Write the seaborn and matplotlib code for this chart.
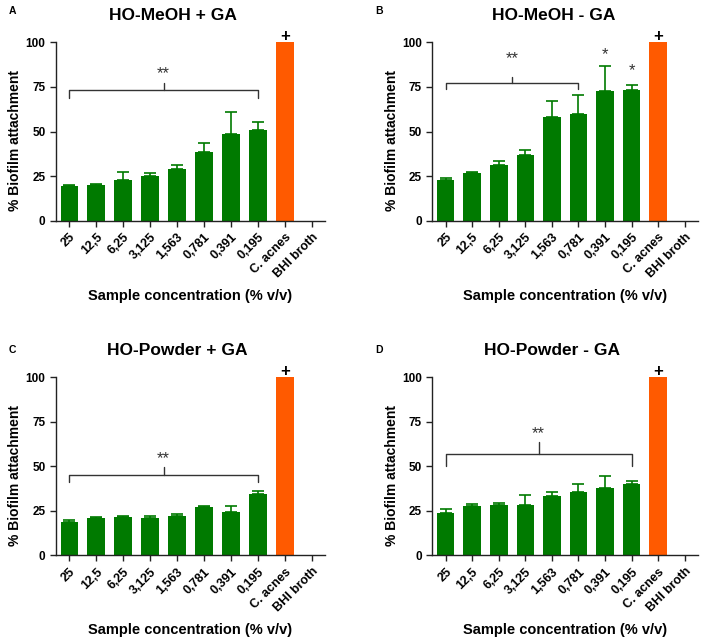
import numpy as np
import pandas as pd
import matplotlib
matplotlib.use('Agg')
import matplotlib.pyplot as plt
import seaborn as sns

sns.set_style('ticks')
plt.rcParams['font.family'] = ['Liberation Sans', 'DejaVu Sans']
plt.rcParams['text.color'] = 'black'
plt.rcParams['axes.labelcolor'] = 'black'
plt.rcParams['xtick.color'] = 'black'
plt.rcParams['ytick.color'] = 'black'

categories = ['25', '12,5', '6,25', '3,125', '1,563', '0,781', '0,391', '0,195',
              'C. acnes', 'BHI broth']

titles = ['HO-MeOH + GA', 'HO-MeOH - GA', 'HO-Powder + GA', 'HO-Powder - GA']
letters = ['A', 'B', 'C', 'D']

means_a = [19.5, 20.0, 23.0, 25.0, 29.0, 38.5, 48.5, 51.0, 100, 0]
upper_a = [20.2, 20.6, 27.3, 27.0, 31.0, 43.5, 61.0, 55.3, 100, 0]

means_b = [23.0, 27.0, 31.5, 37.0, 58.0, 60.0, 72.5, 73.5, 100, 0]
upper_b = [24.0, 27.3, 33.5, 39.5, 67.0, 70.5, 86.5, 76.0, 100, 0]

means_c = [19.0, 20.8, 21.8, 21.0, 22.0, 27.0, 24.5, 34.7, 100, 0]
upper_c = [19.8, 21.3, 22.2, 22.0, 23.0, 27.6, 27.8, 36.0, 100, 0]

means_d = [23.5, 27.7, 28.0, 28.5, 33.5, 35.5, 38.0, 40.2, 100, 0]
upper_d = [26.0, 28.8, 29.5, 33.7, 35.3, 40.2, 44.8, 41.6, 100, 0]

# bracket: (last bar index, bracket level, end drop, middle tick top, star height)
brackets = [(7, 73.3, 69.0, 77.4, 82.5),
            (5, 77.4, 73.6, 80.4, 91.0),
            (7, 45.3, 41.2, 49.4, 54.2),
            (7, 56.7, 50.2, 63.7, 68.4)]
single_stars_b = {6: 93.3, 7: 84.4}

green = '#007A00'
orange = '#FF5A00'
palette = [green] * 8 + [orange, green]

fig = plt.figure(figsize=(7.08, 6.44), dpi=100)
positions = [[0.0791, 0.6573, 0.380, 0.277],
             [0.6106, 0.6573, 0.3753, 0.277],
             [0.0791, 0.1377, 0.380, 0.2764],
             [0.6106, 0.1377, 0.3753, 0.2764]]
title_xy = [(173, 16), (554, 16), (177, 351), (552, 351)]
letter_xy = [(12, 11), (379, 11), (12, 350), (379, 350)]

all_means = [means_a, means_b, means_c, means_d]
all_upper = [upper_a, upper_b, upper_c, upper_d]

for i in range(4):
    ax = fig.add_axes(positions[i])
    df = pd.DataFrame({'conc': categories, 'value': all_means[i]})
    sns.barplot(data=df, x='conc', y='value', hue='conc', palette=palette,
                legend=False, width=0.66, ax=ax, saturation=1, edgecolor='none')
    x = np.arange(len(categories))
    m = np.array(all_means[i])
    err = np.array(all_upper[i]) - m
    idx = x[:8]
    ax.errorbar(idx, m[:8], yerr=[np.zeros(8), err[:8]], fmt='none',
                ecolor=green, elinewidth=1.2, capsize=4.5, capthick=1.2)

    ax.set_xlim(-0.5, 9.5)
    ax.set_ylim(0, 100)
    ax.set_yticks([0, 25, 50, 75, 100])
    sns.despine(ax=ax)
    for s in ['left', 'bottom']:
        ax.spines[s].set_linewidth(1.0)
        ax.spines[s].set_color('#222222')
    ax.tick_params(axis='both', direction='out', length=4, width=1.0,
                   color='#222222')
    ax.set_yticklabels(['0', '25', '50', '75', '100'], fontsize=8.5,
                       fontweight='bold')
    ax.set_xticks(x)
    ax.set_xticklabels(categories, rotation=45, ha='right',
                       rotation_mode='anchor', fontsize=9, fontweight='bold')
    ax.set_ylabel('% Biofilm attachment', fontsize=10, fontweight='bold',
                  va='center')
    ax.set_xlabel('Sample concentration (% v/v)', fontsize=10.5,
                  fontweight='bold', va='center')
    ax.yaxis.set_label_coords(-0.152, 0.45)
    ax.xaxis.set_label_coords(0.5, -0.42)

    last, level, drop, mid_top, star_y = brackets[i]
    ax.plot([0, 0, last, last], [drop, level, level, drop], color='#333333',
            lw=1.0, clip_on=False)
    ax.plot([last / 2, last / 2], [level, mid_top], color='#333333', lw=1.0,
            clip_on=False)
    ax.text(last / 2, star_y, '**', ha='center', va='center', fontsize=12,
            color='#333333')
    if i == 1:
        for k, yy in single_stars_b.items():
            ax.text(k, yy, '*', ha='center', va='center', fontsize=12,
                    color='#333333')
    ax.text(8, 103, '+', ha='center', va='center', fontsize=12,
            fontweight='bold', clip_on=False)

    tx, ty = title_xy[i]
    fig.text(tx / 708, 1 - ty / 644, titles[i], ha='center', va='center',
             fontsize=12.5, fontweight='bold')
    lx, ly = letter_xy[i]
    fig.text(lx / 708, 1 - ly / 644, letters[i], ha='center', va='center',
             fontsize=7.5, fontweight='bold')

fig.savefig('out.png', dpi=100)
